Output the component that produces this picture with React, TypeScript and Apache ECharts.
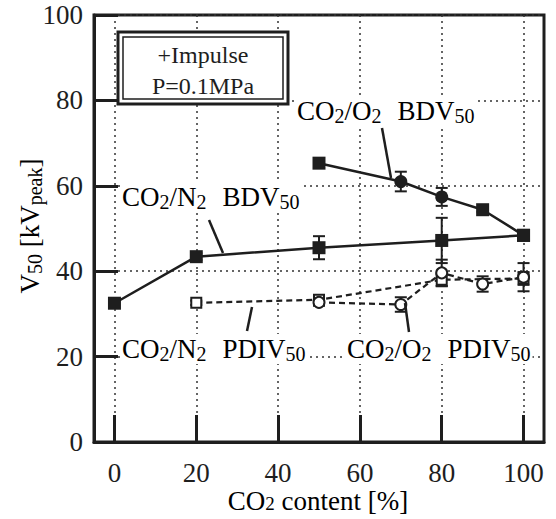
import React, { useEffect, useRef } from "react";
import * as echarts from "echarts";

// ---- data ----
const xTicks = [0, 20, 40, 60, 80, 100];

const xN2BDV = [0, 20, 50, 80, 100];
const yN2BDV = [32.5, 43.4, 45.5, 47.2, 48.4];
const eN2BDV = [0, 0.8, 2.7, 5.3, 0];

const xO2BDV = [50, 70, 80, 90, 100];
const yO2BDV = [65.3, 61.0, 57.4, 54.4, 48.4];
const eO2BDV = [0.7, 2.3, 2.1, 0.5, 0];

const xN2PDIV = [20, 50, 80, 100];
const yN2PDIV = [32.6, 33.3, 38.0, 38.3];
const eN2PDIV = [0.5, 0.8, 1.5, 1.5];

const xO2PDIV = [50, 70, 80, 90, 100];
const yO2PDIV = [32.7, 32.2, 39.6, 37.0, 38.6];
const eO2PDIV = [0.8, 1.7, 3.1, 1.8, 3.3];

const FONT = '"Liberation Serif", "Times New Roman", serif';
const INK = "#1e1e1e";

const pts = (xs: number[], ys: number[]) => xs.map((x, i) => [x, ys[i]]);
const errs = (xs: number[], ys: number[], es: number[]) =>
  xs.map((x, i) => [x, ys[i] - es[i], ys[i] + es[i]]).filter((d, i) => es[i] > 0);

const subRich = {
  m: { fontSize: 27, fontFamily: FONT, color: INK, lineHeight: 30 },
  s: { fontSize: 20, fontFamily: FONT, color: INK, verticalAlign: "bottom" },
  g: { fontSize: 27, fontFamily: FONT, width: 16 },
};

export default function App() {
  const ref = useRef<HTMLDivElement>(null);
  useEffect(() => {
    document.body.style.margin = "0";
    const chart = echarts.init(ref.current!, null, { renderer: "svg" });

    const errSeries = (data: number[][]) => ({
      type: "custom",
      z: 3,
      silent: true,
      data,
      renderItem: (params: any, api: any) => {
        const x = api.value(0);
        const lo = api.coord([x, api.value(1)]);
        const hi = api.coord([x, api.value(2)]);
        const st = { stroke: INK, lineWidth: 2 };
        const w = 6;
        return {
          type: "group",
          children: [
            { type: "line", shape: { x1: lo[0], y1: lo[1], x2: hi[0], y2: hi[1] }, style: st },
            { type: "line", shape: { x1: lo[0] - w, y1: lo[1], x2: lo[0] + w, y2: lo[1] }, style: st },
            { type: "line", shape: { x1: hi[0] - w, y1: hi[1], x2: hi[0] + w, y2: hi[1] }, style: st },
          ],
        };
      },
    });

    const o2Symbols = ["rect", "circle", "circle", "rect", "rect"];

    const label = (text: string, x: number, y: number) => ({
      type: "text",
      x,
      y,
      z: 50,
      style: {
        text,
        rich: subRich,
        verticalAlign: "middle",
        backgroundColor: "#fff",
        padding: [0, 2, 0, 2],
      },
    });
    const leader = (x1: number, y1: number, x2: number, y2: number) => ({
      type: "line",
      z: 51,
      shape: { x1, y1, x2, y2 },
      style: { stroke: INK, lineWidth: 2.5 },
    });

    chart.setOption({
      animation: false,
      backgroundColor: "#fff",
      grid: {
        left: 94,
        top: 15,
        right: 12,
        bottom: 77,
        show: true,
        borderColor: INK,
        borderWidth: 3,
        backgroundColor: "#fff",
      },
      xAxis: {
        type: "value",
        min: -5,
        max: 105,
        axisLine: { show: true, onZero: false, lineStyle: { color: INK, width: 3 } },
        axisTick: {
          show: true,
          inside: true,
          length: 27,
          customValues: xTicks,
          lineStyle: { color: INK, width: 3 },
        },
        axisLabel: {
          customValues: xTicks,
          fontSize: 27,
          lineHeight: 20,
          fontFamily: FONT,
          color: INK,
          margin: 21,
        },
        splitLine: { show: true, lineStyle: { type: [2, 4], color: "#333", width: 1.5 } },
      },
      yAxis: {
        type: "value",
        min: 0,
        max: 100,
        interval: 20,
        axisLine: { show: true, onZero: false, lineStyle: { color: INK, width: 3 } },
        axisTick: { show: true, inside: true, length: 24, lineStyle: { color: INK, width: 3 } },
        axisLabel: { fontSize: 27, fontFamily: FONT, color: INK, margin: 11 },
        splitLine: { show: true, lineStyle: { type: [2, 4], color: "#333", width: 1.5 } },
      },
      series: [
        errSeries(errs(xN2BDV, yN2BDV, eN2BDV)),
        errSeries(errs(xO2BDV, yO2BDV, eO2BDV)),
        errSeries(errs(xN2PDIV, yN2PDIV, eN2PDIV)),
        errSeries(errs(xO2PDIV, yO2PDIV, eO2PDIV)),
        {
          name: "CO2/N2 PDIV50",
          type: "line",
          z: 4,
          data: pts(xN2PDIV, yN2PDIV),
          symbol: "rect",
          symbolSize: 10,
          lineStyle: { color: INK, width: 2.2, type: [6, 4] },
          itemStyle: { color: "#fff", borderColor: INK, borderWidth: 2 },
        },
        {
          name: "CO2/O2 PDIV50",
          type: "line",
          z: 4,
          data: pts(xO2PDIV, yO2PDIV),
          symbol: "circle",
          symbolSize: 11,
          lineStyle: { color: INK, width: 2.2, type: [6, 4] },
          itemStyle: { color: "#fff", borderColor: INK, borderWidth: 2 },
        },
        {
          name: "CO2/N2 BDV50",
          type: "line",
          z: 5,
          data: pts(xN2BDV, yN2BDV),
          symbol: "rect",
          symbolSize: 13,
          lineStyle: { color: INK, width: 2.5 },
          itemStyle: { color: INK },
        },
        {
          name: "CO2/O2 BDV50",
          type: "line",
          z: 5,
          data: pts(xO2BDV, yO2BDV).map((v, i) => ({ value: v, symbol: o2Symbols[i] })),
          symbolSize: 13,
          lineStyle: { color: INK, width: 2.5 },
          itemStyle: { color: INK },
        },
      ],
      graphic: [
        // info box
        {
          type: "rect",
          z: 40,
          shape: { x: 118, y: 32, width: 170, height: 72 },
          style: { fill: "#fff", stroke: INK, lineWidth: 3 },
        },
        {
          type: "rect",
          z: 41,
          shape: { x: 123, y: 37, width: 160, height: 62 },
          style: { fill: "#fff", stroke: INK, lineWidth: 1.5 },
        },
        {
          type: "text",
          z: 42,
          x: 203,
          y: 55,
          style: {
            text: "+Impulse",
            fontSize: 24,
            fontFamily: FONT,
            fill: INK,
            align: "center",
            verticalAlign: "middle",
          },
        },
        {
          type: "text",
          z: 42,
          x: 203,
          y: 86,
          style: {
            text: "P=0.1MPa",
            fontSize: 24,
            fontFamily: FONT,
            fill: INK,
            align: "center",
            verticalAlign: "middle",
          },
        },
        // series annotations
        label("{m|CO}{s|2}{m|/O}{s|2}{g| }{m|BDV}{s|50}", 295, 111),
        label("{m|CO}{s|2}{m|/N}{s|2}{g| }{m|BDV}{s|50}", 120, 197),
        label("{m|CO}{s|2}{m|/N}{s|2}{g| }{m|PDIV}{s|50}", 120, 349),
        label("{m|CO}{s|2}{m|/O}{s|2}{g| }{m|PDIV}{s|50}", 345, 349),
        leader(382, 128, 391, 178),
        leader(209, 220, 223, 253),
        leader(252, 307, 247, 331),
        leader(405, 303, 409, 332),
        // axis titles
        {
          type: "text",
          x: 318,
          y: 501,
          style: {
            text: "{m|CO}{s|2}{m| content [%]}",
            rich: {
              m: { fontSize: 27, fontFamily: FONT, color: INK, lineHeight: 24 },
              s: { fontSize: 19, fontFamily: FONT, color: INK, verticalAlign: "bottom" },
            },
            align: "center",
            verticalAlign: "middle",
          },
        },
        {
          type: "text",
          x: 30,
          y: 226,
          rotation: Math.PI / 2,
          style: {
            text: "{m|V}{s|50}{m| [kV}{s|peak}{m|]}",
            rich: {
              m: { fontSize: 27, fontFamily: FONT, color: INK, lineHeight: 30 },
              s: { fontSize: 20, fontFamily: FONT, color: INK, verticalAlign: "bottom" },
            },
            align: "center",
            verticalAlign: "middle",
          },
        },
      ],
    });
    return () => chart.dispose();
  }, []);
  return <div ref={ref} style={{ width: 556, height: 519 }} />;
}
